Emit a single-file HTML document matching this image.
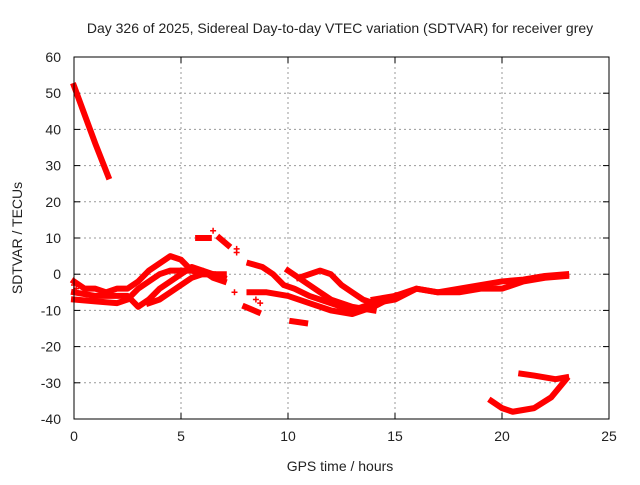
<!DOCTYPE html>
<html><head><meta charset="utf-8">
<style>
body{margin:0;background:#fff;}
svg text{font-family:"Liberation Sans",sans-serif;font-size:14px;fill:#222;}
</style></head>
<body>
<svg id="chart" width="640" height="480">
<text x="340" y="33" text-anchor="middle">Day 326 of 2025, Sidereal Day-to-day VTEC variation (SDTVAR) for receiver grey</text>
<text x="340" y="471" text-anchor="middle">GPS time / hours</text>
<text x="22" y="238" text-anchor="middle" transform="rotate(-90 22 238)">SDTVAR / TECUs</text>
<g id="grid"></g>
<g id="ticks"></g>
<g id="series"></g>
<rect x="74" y="57" width="535" height="362" fill="none" stroke="#000" stroke-width="1"/>
</svg>
<script>
const xTicks=[0,5,10,15,20,25];
const yTicks=[60,50,40,30,20,10,0,-10,-20,-30,-40];
const track1=[[0,52],[0.5,44],[1,36],[1.6,27]];
const track2=[[0,-2],[0.5,-4],[1,-4],[1.5,-5],[2,-4],[2.5,-4],[3,-2],[3.5,1],[4,3],[4.5,5],[5,4],[5.5,1],[6,0],[7,0]];
const track3=[[0,-7],[1,-7.5],[2,-8],[2.5,-7],[3,-4],[3.5,-2],[4,0],[4.5,1],[5,1],[6,1],[7,-1]];
const track4=[[0,-5],[1,-6],[2,-6],[2.5,-6],[3,-9],[3.5,-7],[4,-4],[4.5,-2],[5,0],[5.5,2],[6,1],[6.5,-1],[7,-2]];
const track5=[[3.5,-8],[4,-7],[4.5,-5],[5,-3],[5.5,-1],[6,0],[6.5,0]];
const track6=[[5.8,10],[6.3,10]];
const track7=[[6.8,10],[7.2,8]];
const track8=[[8,-9],[8.6,-10.5]];
const track9=[[8.2,3],[8.8,2],[9.3,0],[9.8,-3],[10.3,-4],[11,-6],[12,-8],[13,-10],[14,-8]];
const track10=[[8.2,-5],[9,-5],[10,-6],[11,-8],[12,-10],[13,-11],[14,-9],[15,-6]];
const track11=[[10,1],[10.5,-1],[11,-3],[11.5,-5],[12,-7],[13,-9],[14,-10]];
const track12=[[10.5,-1],[11.5,1],[12,0],[12.5,-3],[13,-5],[13.5,-7],[14,-8],[15,-7],[16,-4],[17,-5],[18,-4],[19,-3],[20,-2],[21,-1.5],[22,-0.5],[23,0]];
const track13=[[14,-7],[15,-6],[16,-4],[17,-5],[18,-5],[19,-4],[20,-4],[21,-2],[22,-1],[23,-0.5]];
const track14=[[10.2,-13],[10.8,-13.5]];
const track15=[[19.5,-35],[20,-37],[20.5,-38],[21.5,-37],[22.3,-34],[23,-29]];
const track16=[[20.9,-27.5],[21.5,-28],[22.5,-29],[23,-28.5]];
const tracks=[track1,track2,track3,track4,track5,track6,track7,track8,track9,track10,track11,track12,track13,track14,track15,track16];
const pointsX=[6.5,7.6,7.6,7.5,8.5,8.7,0,0.1];
const pointsY=[12,7,6,-5,-7,-8,-3,-4];

const X0=74,X1=609,Y0=419,Y1=57;
const sx=v=>X0+(v-0)/(25-0)*(X1-X0);
const sy=v=>Y0-(v+40)/(100)*(Y0-Y1);
const NS="http://www.w3.org/2000/svg";
const grid=document.getElementById('grid'),tk=document.getElementById('ticks'),ser=document.getElementById('series');
function mk(tag,attrs,parent){const e=document.createElementNS(NS,tag);for(const k in attrs)e.setAttribute(k,attrs[k]);parent.appendChild(e);return e;}
xTicks.forEach(t=>{
  const x=sx(t);
  if(t>0&&t<25){const g=mk('line',{x1:x,x2:x,y1:Y1,y2:Y0,stroke:'#999','stroke-dasharray':'2,3'},grid);
  
  }
  mk('line',{x1:x,x2:x,y1:Y0,y2:Y0-6,stroke:'#000'},tk);
  mk('line',{x1:x,x2:x,y1:Y1,y2:Y1+6,stroke:'#000'},tk);
  const l=mk('text',{x:x,y:Y0+22,'text-anchor':'middle'},tk);l.textContent=t;
  
  
});
yTicks.forEach(t=>{
  const y=sy(t);
  if(t>-40&&t<60){const g=mk('line',{x1:X0,x2:X1,y1:y,y2:y,stroke:'#999','stroke-dasharray':'2,3'},grid);
  
  }
  mk('line',{x1:X0,x2:X0+6,y1:y,y2:y,stroke:'#000'},tk);
  mk('line',{x1:X1,x2:X1-6,y1:y,y2:y,stroke:'#000'},tk);
  const l=mk('text',{x:X0-13,y:y+5,'text-anchor':'end'},tk);l.textContent=t;
  
  
});
tracks.forEach(tr=>{
  const p=mk('polyline',{points:tr.map(q=>sx(q[0])+','+sy(q[1])).join(' '),fill:'none',stroke:'#f00','stroke-width':6,'stroke-linejoin':'round','stroke-linecap':'square'},ser);
  
  
});
pointsX.forEach((v,i)=>{
  const x=sx(v),y=sy(pointsY[i]);
  const p=mk('path',{d:`M${x-3},${y}H${x+3}M${x},${y-3}V${y+3}`,stroke:'#f00','stroke-width':1.5},ser);
  
  
});
</script>
</body></html>
